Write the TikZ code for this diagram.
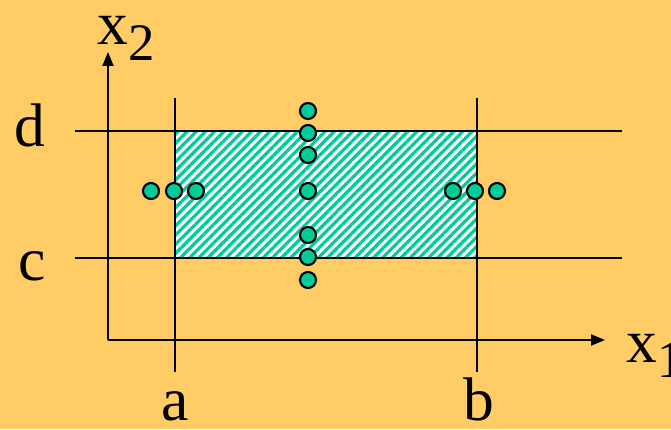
\documentclass[tikz,border=0pt]{standalone}
\usepackage{fontspec}
\setmainfont{Liberation Serif}
\usetikzlibrary{arrows.meta,patterns.meta}
\definecolor{bgorange}{RGB}{255,204,102}
\definecolor{dotgreen}{RGB}{0,204,153}
\begin{document}
\begin{tikzpicture}[x=0.02cm, y=-0.02cm, line width=1.1pt,
  dot/.style={circle, draw=black, line width=1.2pt, fill=dotgreen, minimum size=0.32cm, inner sep=0pt},
  lbl/.style={font=\fontsize{35}{40}\selectfont, inner sep=0pt, anchor=base},
  axis/.style={-{Triangle[length=0.28cm, width=0.22cm]}}]
  \useasboundingbox[fill=bgorange] (0,0) rectangle (671,429);
  % hatched region
  \fill[white] (175,131) rectangle (477,258);
  \fill[pattern={Lines[angle=45, distance=0.13cm, line width=0.065cm]}, pattern color=dotgreen] (175,131) rectangle (477,258);
  % axes
  \coordinate (o) at (108,340);
  \coordinate (xend) at (605,340);
  \coordinate (yend) at (108,52);
  \draw[axis] (o) -- (xend);
  \draw[axis] (o) -- (yend);
  % bounds
  \coordinate (a1) at (175,98);  \coordinate (a2) at (175,372);
  \coordinate (b1) at (477,98);  \coordinate (b2) at (477,372);
  \coordinate (d1) at (75,131);  \coordinate (d2) at (622,131);
  \coordinate (c1) at (75,258);  \coordinate (c2) at (622,258);
  \draw (a1) -- (a2);
  \draw (b1) -- (b2);
  \draw (d1) -- (d2);
  \draw (c1) -- (c2);
  % labels
  \node[lbl] (la) at (175,420) {a};
  \node[lbl] (lb) at (479,420) {b};
  \node[lbl] (lc) at (32,280) {c};
  \node[lbl] (ld) at (30,146) {d};
  \node[lbl] (lx2) at (126,45) {x\raisebox{-9pt}{\fontsize{30}{30}\selectfont 2}};
  \node[lbl] (lx1) at (655,362) {x\raisebox{-9pt}{\fontsize{30}{30}\selectfont 1}};
  % sample points
  \foreach \x [count=\i] in {151,174,196} \node[dot] (l\i) at (\x,191) {};
  \foreach \x [count=\i] in {453,475,497} \node[dot] (r\i) at (\x,191) {};
  \foreach \y [count=\i] in {111,133,155,191,235,257,280} \node[dot] (m\i) at (308,\y) {};
\end{tikzpicture}
\end{document}
